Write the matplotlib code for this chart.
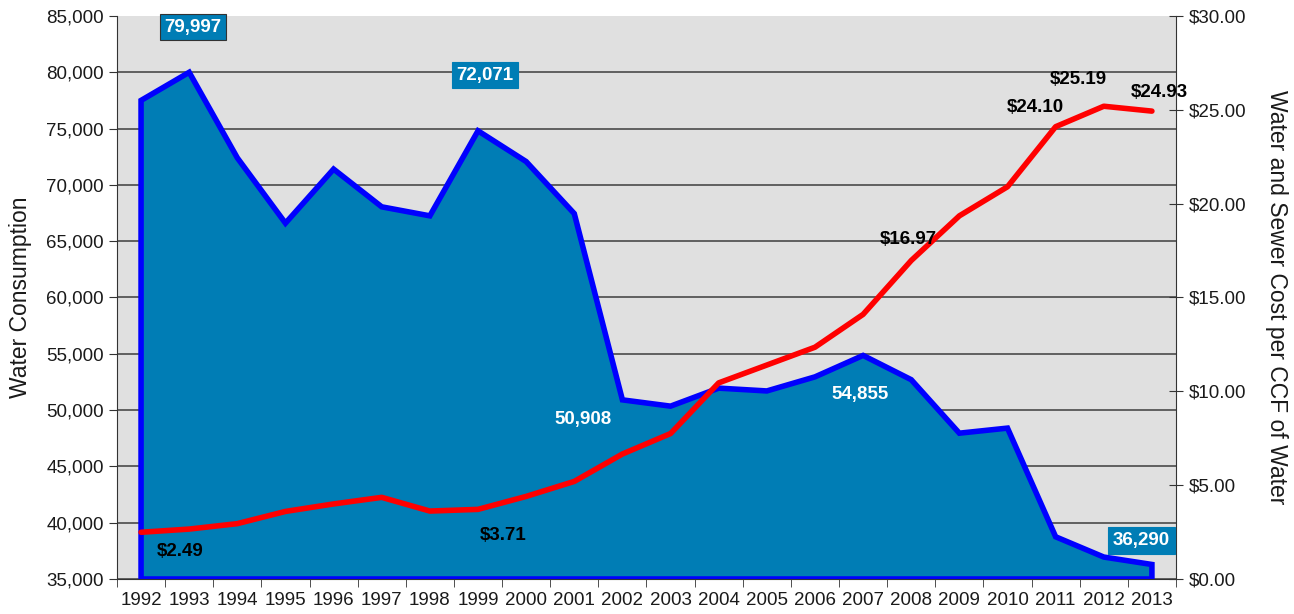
import matplotlib.pyplot as plt
from matplotlib.ticker import FuncFormatter, FixedLocator
import numpy as np

plt.rcParams['font.family'] = ['Liberation Sans', 'DejaVu Sans']

# data
years = [str(y) for y in range(1992, 2014)]
consumption = [77500, 79997, 72400, 66600, 71400, 68050, 67250, 74800, 72071, 67450,
               50908, 50350, 51950, 51700, 52950, 54855, 52700, 47950, 48400, 38750,
               36950, 36290]
cost = [2.49, 2.66, 2.95, 3.60, 4.00, 4.35, 3.62, 3.71, 4.40, 5.20,
        6.66, 7.75, 10.45, 11.40, 12.35, 14.10, 16.97, 19.35, 20.90, 24.10,
        25.19, 24.93]

fill_col = '#007DB5'
x = np.arange(len(years))
base = 35000

fig = plt.figure(figsize=(12.94, 6.14), dpi=100)
ax = fig.add_axes([0.0904, 0.057, 0.8184, 0.917])
ax.set_facecolor('#E0E0E0')
ax.set_axisbelow(True)

# blue area with outline
px = np.concatenate([[x[0]], x, [x[-1]]])
py = np.concatenate([[base], consumption, [base]])
ax.fill(px, py, facecolor=fill_col, edgecolor='#0000FF', lw=4, joinstyle='miter', zorder=2)

ax.set_xlim(-0.5, len(years) - 0.5)
ax.set_ylim(35000, 85000)
ax.set_yticks(np.arange(35000, 85001, 5000))
ax.yaxis.set_major_formatter(FuncFormatter(lambda v, p: f'{int(v):,}'))
ax.grid(axis='y', color='#4a4a4a', lw=1.2)
ax.get_ygridlines()[-1].set_visible(False)
ax.set_xticks(x)
ax.set_xticklabels(years)
ax.xaxis.set_minor_locator(FixedLocator(np.arange(-0.5, len(years), 1)))
ax.tick_params(axis='x', which='major', length=0, pad=9, labelsize=13.5, labelcolor='#1a1a1a')
ax.tick_params(axis='x', which='minor', length=6, color='#333333')
ax.tick_params(axis='y', length=6, labelsize=13.5, color='#333333', labelcolor='#1a1a1a')
ax.spines['top'].set_visible(False)
ax.spines['right'].set_visible(False)
for s in ['left', 'bottom']:
    ax.spines[s].set_color('#333333')
ax.set_ylabel('Water Consumption', fontsize=16.5, labelpad=10, color='#1a1a1a')

# cost line on right axis
ax2 = ax.twinx()
ax2.plot(x, cost, color='#FF0000', lw=4, solid_capstyle='round', zorder=3)
ax2.set_ylim(0, 30)
ax2.set_yticks(np.arange(0, 30.1, 5))
ax2.yaxis.set_major_formatter(FuncFormatter(lambda v, p: f'${v:.2f}'))
ax2.tick_params(axis='y', direction='inout', length=10, labelsize=13.5, color='#333333',
                labelcolor='#1a1a1a', pad=4)
for s in ['top', 'left', 'bottom']:
    ax2.spines[s].set_visible(False)
ax2.spines['right'].set_color('#333333')
ax2.set_ylabel('Water and Sewer Cost per CCF of Water', fontsize=16.5, rotation=270,
               labelpad=30, color='#1a1a1a')

# consumption labels
boxed = dict(boxstyle='square,pad=0.25', facecolor=fill_col, edgecolor='#333333', lw=0.8)
ax2.text(1.08, 29.4, f'{consumption[1]:,}', color='white', fontsize=13.5, fontweight='bold',
         ha='center', va='center', bbox=boxed)
ax2.text(7.15, 26.85, f'{consumption[8]:,}', color='white', fontsize=13.5, fontweight='bold',
         ha='center', va='center', bbox=dict(boxed, edgecolor=fill_col))
ax2.text(9.18, 8.5, f'{consumption[10]:,}', color='white', fontsize=13.5, fontweight='bold',
         ha='center', va='center')
ax2.text(14.93, 9.85, f'{consumption[15]:,}', color='white', fontsize=13.5, fontweight='bold',
         ha='center', va='center')
ax2.text(20.78, 2.06, f'{consumption[21]:,}', color='white', fontsize=13.5, fontweight='bold',
         ha='center', va='center', bbox=dict(boxed, edgecolor=fill_col), clip_on=False)

# cost labels
cost_lbl = [(0, 0.81, 1.44), (7, 7.52, 2.34), (16, 15.93, 18.07),
            (19, 18.57, 25.10), (20, 19.48, 26.59), (21, 21.15, 25.90)]
for i, tx, ty in cost_lbl:
    ax2.text(tx, ty, f'${cost[i]:.2f}', color='black', fontsize=13.5, fontweight='bold',
             ha='center', va='center', zorder=5)

fig.savefig('out.png', dpi=100)
